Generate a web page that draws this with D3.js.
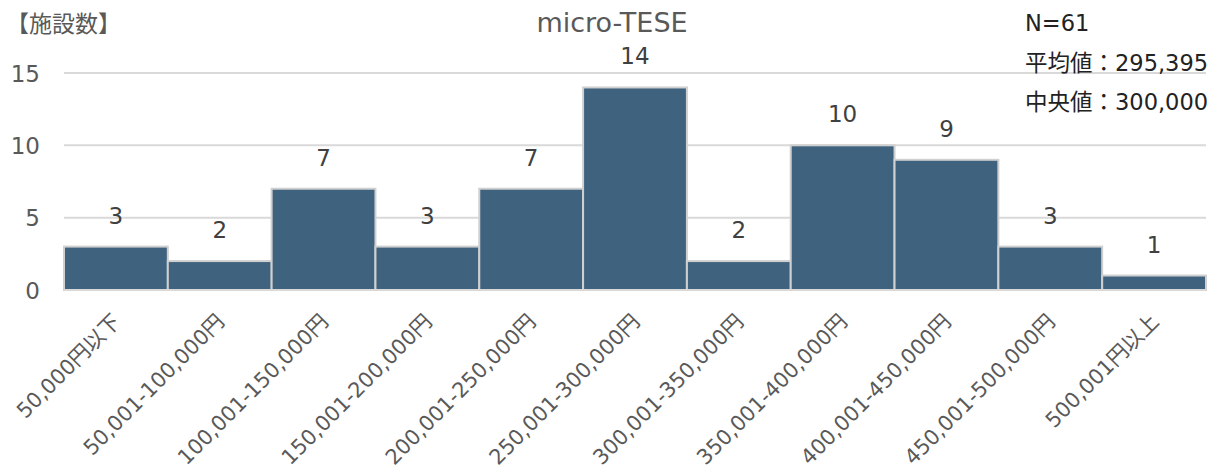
<!DOCTYPE html>
<html><head><meta charset="utf-8">
<script src="https://cdn.jsdelivr.net/npm/d3@7"></script>
<style>body{margin:0;background:#fff}text{font-family:"DejaVu Sans","Noto Sans CJK JP",sans-serif}</style>
</head><body><svg id="c" width="1232" height="470"></svg>
<script>
const categories=["50,000円以下","50,001-100,000円","100,001-150,000円","150,001-200,000円","200,001-250,000円","250,001-300,000円","300,001-350,000円","350,001-400,000円","400,001-450,000円","450,001-500,000円","500,001円以上"];
const counts=[3,2,7,3,7,14,2,10,9,3,1];
const yTicks=[0,5,10,15];
const title="micro-TESE";
const yTitle="【施設数】";
const stats=["N=61","平均値：295,395","中央値：300,000"];

const svg=d3.select("#c");
const L=64,R=1206,T=73,B=290;
const x=d3.scaleBand().domain(categories).range([L,R]).padding(0);
const y=d3.scaleLinear().domain([0,15]).range([B,T]);

const g=svg.append("g");
g.selectAll("line.grid").data(yTicks.filter(d=>d>0)).join("line")
 .attr("x1",L).attr("x2",R).attr("y1",d=>y(d)).attr("y2",d=>y(d))
 .attr("stroke","#d9d9d9").attr("stroke-width",2);
g.selectAll("text.yt").data(yTicks).join("text")
 .attr("x",40).attr("y",d=>y(d)+8.5).attr("text-anchor","end")
 .attr("font-size",23).attr("fill","#595959").text(d=>d);

g.selectAll("rect.bar").data(counts).join("rect")
 .attr("x",(d,i)=>x(categories[i])).attr("width",x.bandwidth())
 .attr("y",d=>y(d)).attr("height",d=>B-y(d))
 .attr("fill","#3f627f").attr("stroke","#d0d0d0").attr("stroke-width",2);
g.append("line").attr("x1",L).attr("x2",R).attr("y1",B).attr("y2",B).attr("stroke","#d9d9d9").attr("stroke-width",2);

g.selectAll("text.val").data(counts).join("text")
 .attr("x",(d,i)=>x(categories[i])+x.bandwidth()/2).attr("y",d=>y(d)-23)
 .attr("text-anchor","middle").attr("font-size",23).attr("fill","#404040").text(d=>d);

g.selectAll("text.xl").data(categories).join("text")
 .attr("text-anchor","end").attr("font-size",21).attr("fill","#595959")
 .attr("transform",d=>`translate(${x(d)+x.bandwidth()/2+6},${B+33}) rotate(-45)`)
 .text(d=>d);

svg.append("text").attr("x",612).attr("y",32).attr("text-anchor","middle").attr("font-size",27).attr("fill","#595959").text(title);
svg.append("text").attr("x",6).attr("y",32).attr("font-size",23).attr("fill","#595959").text(yTitle);
svg.selectAll("text.st").data(stats).join("text").attr("x",1025).attr("y",(d,i)=>31+i*39.5)
 .attr("font-size",22.5).attr("fill","#222").text(d=>d);
</script></body></html>
